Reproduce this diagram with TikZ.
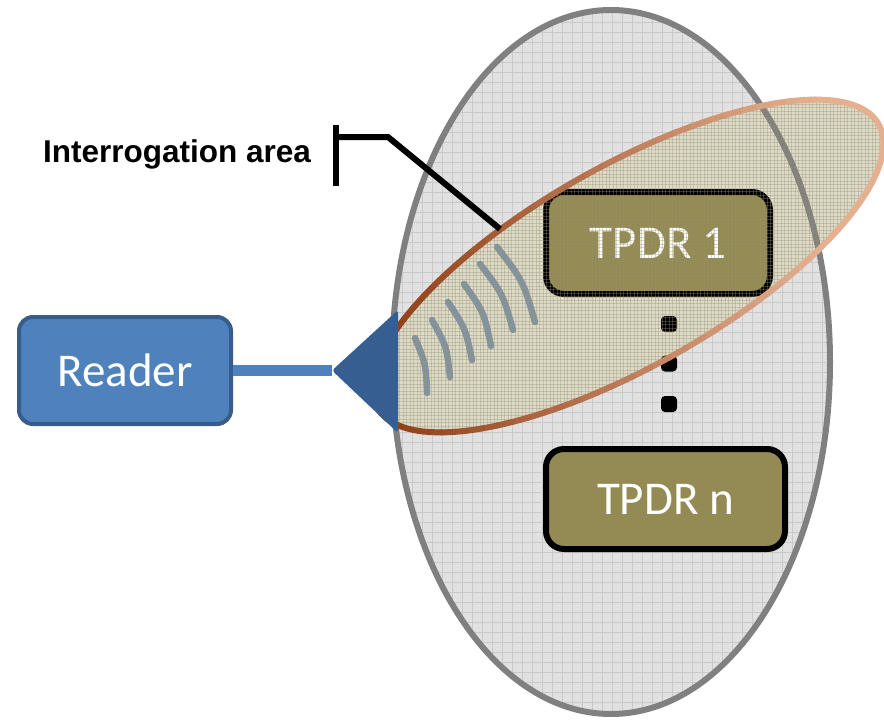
\documentclass[tikz,border=0pt]{standalone}
\usepackage{fontspec}
\newfontfamily\calfont{Carlito}
\newfontfamily\arialfont{Liberation Sans}
\definecolor{readerfill}{HTML}{4F81BD}
\definecolor{readerline}{HTML}{385D8A}
\definecolor{antenna}{HTML}{375E91}
\definecolor{tagfill}{HTML}{948A54}
\definecolor{fieldfill}{HTML}{E1E1E1}
\definecolor{fieldgrid}{HTML}{C9C9C9}
\definecolor{fieldedge}{HTML}{808080}
\definecolor{zonefill}{HTML}{DDDACA}
\definecolor{zonetex}{HTML}{98916A}
\definecolor{edgedark}{RGB}{145,66,26}
\definecolor{edgelight}{RGB}{228,176,144}
\definecolor{wavecol}{RGB}{128,148,165}
\begin{document}
\begin{tikzpicture}[x=1pt,y=-1pt,
  box/.style={rectangle, rounded corners=16pt, inner sep=0pt, text=white,
    font=\calfont\fontsize{47}{50}\selectfont},
  readerbox/.style={box, fill=readerfill, draw=readerline, line width=4pt,
    minimum width=212pt, minimum height=107pt, rounded corners=14pt},
  tagbox/.style={box, fill=tagfill, draw=black, line width=6pt, rounded corners=18pt},
  dotbox/.style={rectangle, fill=black, rounded corners=4pt, minimum size=16pt, inner sep=0pt},
  gridline/.style={fieldgrid, line width=0.8pt},
  texline/.style={zonetex, opacity=0.35, line width=1pt},
  wave/.style={draw=wavecol, line width=6.5pt, line cap=round},
  leader/.style={draw=black, line join=miter},
  feed/.style={draw=readerfill, line width=11pt},
  zone/.style={rotate around={29.5:(628,266)}}
]
\useasboundingbox (0,0) rectangle (884,720);

% tag field: grey ellipse with a light grid
\fill[fieldfill] (611,362) ellipse [x radius=219, y radius=352];
\begin{scope}
  \clip (611,362) ellipse [x radius=219, y radius=352];
  \foreach \gx in {392,402,...,832} \draw[gridline] (\gx,8) -- (\gx,716);
  \foreach \gy in {12,22,...,712} \draw[gridline] (390,\gy) -- (832,\gy);
\end{scope}

% interrogation zone fill
\fill[zonefill, zone] (628,266) ellipse [x radius=288, y radius=100];

% outline of the tag field
\draw[fieldedge, line width=6pt] (611,362) ellipse [x radius=219, y radius=352];

% transponders
\node[tagbox, minimum width=224pt, minimum height=102pt] (tag1) at (658,243) {TPDR 1};
\node[tagbox, minimum width=239pt, minimum height=100pt] (tagn) at (665.5,499) {TPDR n};
\node[dotbox] (dot1) at (669,324) {};
\node[dotbox] (dot2) at (669,363.5) {};
\node[dotbox] (dot3) at (669,404) {};

% radio waves
\draw[wave] (415,338) .. controls (425.9,364.4) .. (427,393);
\draw[wave] (432,320) .. controls (446.7,346.7) .. (450,377);
\draw[wave] (448,302) .. controls (465.5,328.7) .. (472,360);
\draw[wave] (464,284) .. controls (483.9,312.2) .. (491,346);
\draw[wave] (480,264) .. controls (502.8,293.9) .. (513,330);
\draw[wave] (497,247) .. controls (523.1,280.9) .. (535,322);

% fine texture over the interrogation zone
\begin{scope}
  \clip[zone] (628,266) ellipse [x radius=288, y radius=100];
  \foreach \tx in {340,343.5,...,884} \draw[texline] (\tx,90) -- (\tx,440);
  \foreach \ty in {90,93.5,...,440} \draw[texline] (340,\ty) -- (884,\ty);
\end{scope}

% zone outline, shaded from dark brown (left) to peach (right)
\begin{scope}[shift={(628,266)}, rotate=29.5]
  \foreach \t in {0,4,...,356} {
    \pgfmathsetmacro\xv{288*cos(\t+2)*cos(29.5)+100*sin(\t+2)*sin(29.5)}
    \pgfmathsetmacro\mix{max(0,min(100,(\xv+230)/4.2))}
    \draw[line width=6pt, line cap=round, edgelight!\mix!edgedark]
      (\t:288 and 100) arc [start angle=\t, end angle=\t+4, x radius=288, y radius=100];
  }
\end{scope}

% label with its bracket
\node[anchor=base west, inner sep=0pt, font=\arialfont\bfseries\fontsize{31.5}{34}\selectfont] (lbl) at (43,162) {Interrogation area};
\coordinate (brkTop) at (336,125);
\coordinate (brkBot) at (336,186);
\coordinate (brkMid) at (336,137);
\coordinate (brkBend) at (388,137);
\coordinate (zonePt) at (500,229);
\draw[leader, line width=6.5pt] (brkTop) -- (brkBot);
\draw[leader, line width=6pt] (brkMid) -- (brkBend) -- (zonePt);

% reader, feed line and antenna
\node[readerbox] (reader) at (125,370.5) {Reader};
\coordinate (antTip) at (332,370.5);
\coordinate (antTop) at (398,310);
\coordinate (antBot) at (398,433);
\draw[feed] (reader.east) -- (antTip);
\fill[antenna, rounded corners=3pt] (antTip) -- (antTop) -- (antBot) -- cycle;
\end{tikzpicture}
\end{document}
